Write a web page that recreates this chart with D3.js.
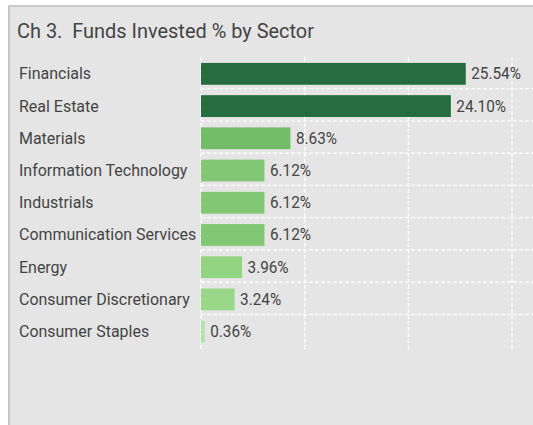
<!DOCTYPE html>
<html><head><meta charset="utf-8">
<script src="https://cdn.jsdelivr.net/npm/d3@7/dist/d3.min.js"></script>
<style>
html,body{margin:0;padding:0;background:#fff;}
svg{display:block;}
text{white-space:pre;}
</style></head>
<body>
<svg id="c" width="533" height="425"></svg>
<script>
const title = "Ch 3.  Funds Invested % by Sector";
const categories = ["Financials","Real Estate","Materials","Information Technology","Industrials","Communication Services","Energy","Consumer Discretionary","Consumer Staples"];
const values = [25.54, 24.10, 8.63, 6.12, 6.12, 6.12, 3.96, 3.24, 0.36];
const barColors = ["#256c3e","#256c3e","#74bc6a","#82c874","#82c874","#82c874","#93d483","#9ad889","#b2e3a7"];
const xTicks = [0, 10, 20, 30];

const FONT = "'Roboto', sans-serif";
const svg = d3.select("#c");

// panel
svg.append("rect").attr("x",8).attr("y",5).attr("width",540).attr("height",430).attr("fill","#e5e5e5");
svg.append("rect").attr("x",8).attr("y",5).attr("width",540).attr("height",2).attr("fill","#cacaca");
svg.append("rect").attr("x",8).attr("y",5).attr("width",2).attr("height",430).attr("fill","#c6c6c6");

svg.append("text").attr("transform","translate(17,37.5) scale(0.95,1)").text(title)
  .attr("font-family",FONT).attr("font-size",21).attr("fill","#444");

const x = d3.scaleLinear().domain([0,30]).range([201,512]);
const y = d3.scaleBand().domain(categories).range([56.5,349]).paddingInner(0.323).paddingOuter(0.2);

const grid = svg.append("g");
grid.selectAll("line.v").data(xTicks).enter().append("line")
  .attr("x1",d=>x(d)).attr("x2",d=>x(d)).attr("y1",57).attr("y2",350)
  .attr("stroke","#fff").attr("stroke-width",1.2).attr("stroke-dasharray","4,2");
grid.selectAll("line.h").data(categories.slice(0,-1)).enter().append("line")
  .attr("x1",201).attr("x2",533)
  .attr("y1",d=>y(d)+y.bandwidth()+4).attr("y2",d=>y(d)+y.bandwidth()+4)
  .attr("stroke","#fff").attr("stroke-width",1.2).attr("stroke-dasharray","4,2");

const rows = categories.map((c,i)=>({c, v:values[i], col:barColors[i]}));

svg.selectAll("rect.bar").data(rows).enter().append("rect")
  .attr("x",x(0)).attr("y",d=>y(d.c)).attr("width",d=>x(d.v)-x(0)).attr("height",y.bandwidth())
  .attr("fill",d=>d.col);

svg.selectAll("text.lab").data(rows).enter().append("text")
  .attr("transform",d=>`translate(19,${y(d.c)+y.bandwidth()/2+5.5}) scale(0.94,1)`).text(d=>d.c)
  .attr("font-family",FONT).attr("font-size",17).attr("fill","#444");

svg.selectAll("text.val").data(rows).enter().append("text")
  .attr("transform",d=>`translate(${x(d.v)+5.5},${y(d.c)+y.bandwidth()/2+5.5}) scale(0.9,1)`).text(d=>d.v.toFixed(2)+"%")
  .attr("font-family",FONT).attr("font-size",17).attr("fill","#444");
</script>
</body></html>
